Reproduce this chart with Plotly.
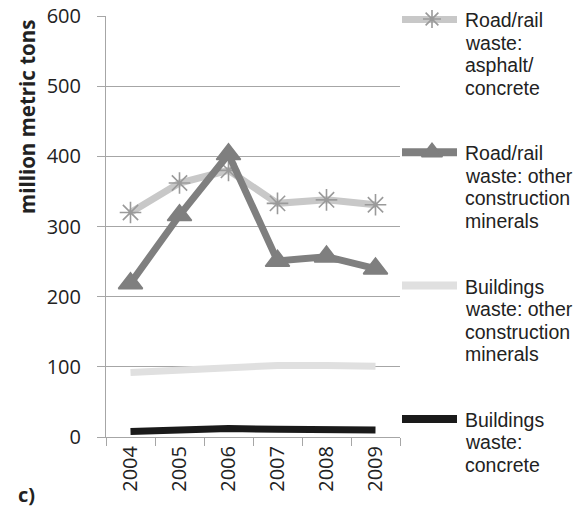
import plotly.graph_objects as go

# ---- data ----
years = ["2004", "2005", "2006", "2007", "2008", "2009"]
road_asphalt = [320, 362, 380, 333, 338, 331]
road_other = [219, 316, 403, 251, 257, 240]
bldg_other = [92, 96, 100, 102, 102, 101]
bldg_concrete = [8, 10, 12, 11, 10, 10]
y_ticks = [0, 100, 200, 300, 400, 500, 600]

names = [
    "Road/rail|waste:|asphalt/|concrete",
    "Road/rail|waste: other|construction|minerals",
    "Buildings|waste: other|construction|minerals",
    "Buildings|waste:|concrete",
]

# ---- styling ----
W, H = 574, 508
L, T = 106, 16
Y0 = 437          # pixel row of value 0
B = H - Y0
PLOT_R = 400
plot_w = W - L
x_dom = (PLOT_R - L) / plot_w

styles = [
    dict(line="#c8c8c8", msym="asterisk-open", mcol="#9a9a9a", msize=18),
    dict(line="#7f7f7f", msym="triangle-up", mcol="#7f7f7f", msize=21),
    dict(line="#e0e0e0", msym=None, mcol=None, msize=0),
    dict(line="#1a1a1a", msym=None, mcol=None, msize=0),
]
series = [road_asphalt, road_other, bldg_other, bldg_concrete]

GRID = "#a6a6a6"
TXT = "#222222"
AX_FONT = dict(family="Open Sans", size=20, color=TXT)
LEG_FONT = dict(family="Liberation Sans", size=19.5, color=TXT)

fig = go.Figure()

for vals, st in zip(series, styles):
    mode = "lines+markers" if st["msym"] else "lines"
    marker = dict(symbol=st["msym"], size=st["msize"], color=st["mcol"],
                  line=dict(width=1.6, color=st["mcol"])) if st["msym"] else None
    fig.add_trace(go.Scatter(x=years, y=vals, mode=mode, line=dict(color=st["line"], width=7),
                             marker=marker, showlegend=False, cliponaxis=False,
                             xaxis="x", yaxis="y", hoverinfo="skip"))


def ppx(px):
    return (px - L) / plot_w


def ppy(py):
    return (Y0 - py) / (H - T - B)


# ---- custom legend (Excel-like layout) ----
entry_top = 19
entry_step = 133.3
line_gap = 22.5
annotations = []
for i, (nm, st) in enumerate(zip(names, styles)):
    yc = entry_top + i * entry_step
    fig.add_trace(go.Scatter(x=[2, 29.5, 57], y=[yc, yc, yc], mode="lines",
                             line=dict(color=st["line"], width=8), showlegend=False,
                             cliponaxis=False, xaxis="x2", yaxis="y2", hoverinfo="skip"))
    if st["msym"]:
        fig.add_trace(go.Scatter(x=[32], y=[yc], mode="markers",
                                 marker=dict(symbol=st["msym"], size=st["msize"] - 3, color=st["mcol"],
                                             line=dict(width=1.6, color=st["mcol"])),
                                 showlegend=False, cliponaxis=False, xaxis="x2", yaxis="y2",
                                 hoverinfo="skip"))
    for j, part in enumerate(nm.split("|")):
        annotations.append(dict(text=part, xref="paper", yref="paper",
                                x=ppx(463), y=ppy(yc + 1 + j * line_gap),
                                xanchor="left", yanchor="middle", showarrow=False,
                                font=LEG_FONT))

annotations.append(dict(text="<b>million metric tons</b>", xref="paper", yref="paper",
                        x=ppx(27), y=ppy(117), textangle=-90, showarrow=False,
                        xanchor="center", yanchor="middle",
                        font=dict(family="Open Sans", size=20.5, color=TXT)))
annotations.append(dict(text="<b>c)</b>", xref="paper", yref="paper",
                        x=ppx(26), y=ppy(494), showarrow=False,
                        xanchor="center", yanchor="middle",
                        font=dict(family="Open Sans", size=20, color=TXT)))

fig.update_layout(
    width=W, height=H,
    margin=dict(l=L, r=0, t=T, b=B, pad=0),
    paper_bgcolor="white", plot_bgcolor="white",
    showlegend=False,
    xaxis=dict(domain=[0, x_dom], type="category", range=[-0.5, 5.5],
               tickson="boundaries", ticks="outside", ticklen=8, tickcolor=GRID,
               showline=True, linecolor=GRID, linewidth=1, showgrid=False,
               tickangle=-90, tickfont=AX_FONT, anchor="y", zeroline=False),
    yaxis=dict(range=[0, 600], tickvals=y_ticks, ticks="outside", ticklen=8, tickcolor=GRID,
               showline=True, linecolor=GRID, linewidth=1, showgrid=True, gridcolor=GRID,
               gridwidth=1, zeroline=False, tickfont=AX_FONT, ticklabelstandoff=12,
               anchor="x"),
    xaxis2=dict(domain=[x_dom, 1], range=[0, W - PLOT_R], visible=False, anchor="y2"),
    yaxis2=dict(domain=[0, 1], range=[Y0, T], visible=False, anchor="x2"),
    annotations=annotations,
)

fig.write_html("out.html", config={"displayModeBar": False},
               post_script="document.body.style.margin='0';document.body.style.overflow='hidden';")
